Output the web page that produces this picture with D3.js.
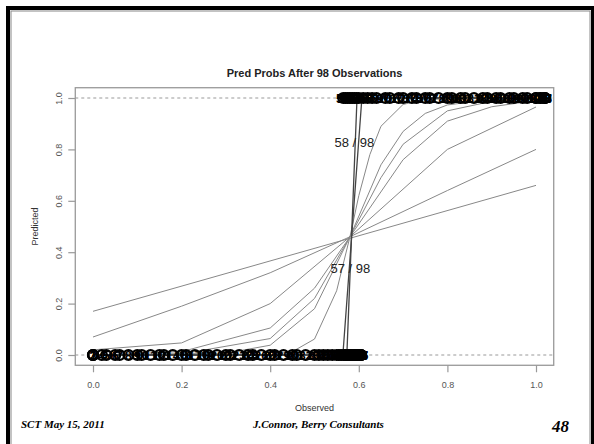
<!DOCTYPE html>
<html>
<head>
<meta charset="utf-8">
<script src="https://cdnjs.cloudflare.com/ajax/libs/d3/7.8.5/d3.min.js"></script>
<style>
  body { margin: 0; background: #fff; }
  svg { display: block; }
</style>
</head>
<body>
<svg id="chart" width="594" height="444"></svg>
<script>
// observed x of the 98 observations, outcome 0 (labels 1..57) and outcome 1 (labels 58..98)
var failX = [0, 0, 0, 0.02, 0.03, 0.05, 0.06, 0.08, 0.10, 0.11,
             0.13, 0.15, 0.16, 0.18, 0.20, 0.21, 0.23, 0.25, 0.26, 0.28,
             0.30, 0.31, 0.33, 0.35, 0.36, 0.38, 0.40, 0.41, 0.43, 0.45,
             0.46, 0.48, 0.50, 0.51, 0.52, 0.53, 0.54, 0.55, 0.555, 0.56,
             0.565, 0.57, 0.57, 0.575, 0.575, 0.58, 0.58, 0.585, 0.59, 0.59,
             0.595, 0.60, 0.60, 0.60, 0.605, 0.605, 0.605];
var respX = [0.565, 0.57, 0.575, 0.58, 0.585, 0.59, 0.595, 0.60, 0.61, 0.62,
             0.63, 0.64, 0.66, 0.67, 0.69, 0.70, 0.72, 0.73, 0.75, 0.76,
             0.78, 0.80, 0.81, 0.83, 0.84, 0.86, 0.88, 0.89, 0.91, 0.92,
             0.94, 0.95, 0.97, 0.98, 1.0, 1.0, 1.01, 1.01, 1.02, 1.02,
             1.02];

// predicted probability curves (x, p)
var curve1 = [[0, 0.17], [1, 0.66]];
var curve2 = [[0, 0.07], [0.2, 0.19], [0.4, 0.32], [0.58, 0.46], [0.8, 0.64], [1, 0.80]];
var curve3 = [[0, 0.02], [0.2, 0.047], [0.4, 0.20], [0.58, 0.46], [0.8, 0.80], [1, 0.965]];
var curve4 = [[0, 0], [0.2, 0.013], [0.4, 0.105], [0.5, 0.26], [0.58, 0.46], [0.7, 0.76], [0.8, 0.91], [0.9, 0.966], [1, 0.99]];
var curve5 = [[0, 0], [0.2, 0.004], [0.4, 0.064], [0.5, 0.22], [0.58, 0.46], [0.65, 0.69], [0.7, 0.82], [0.8, 0.95], [0.9, 0.987], [1, 0.997]];
var curve6 = [[0, 0], [0.3, 0.007], [0.4, 0.038], [0.5, 0.18], [0.58, 0.46], [0.65, 0.74], [0.7, 0.87], [0.75, 0.94], [0.8, 0.973], [0.9, 0.995], [1, 1]];
var curve7 = [[0, 0], [0.4, 0.001], [0.45, 0.013], [0.5, 0.062], [0.55, 0.25], [0.58, 0.46], [0.6, 0.62], [0.625, 0.78], [0.65, 0.89], [0.7, 0.975], [0.75, 0.995], [1, 1]];
var curve8 = [[0, 0], [0.564, 0], [0.607, 1], [1, 1]];
var curve9 = [[0, 0], [0.573, 0], [0.596, 1], [1, 1]];

var vCurves = [curve1, curve2, curve3, curve4, curve5, curve6, curve7, curve8, curve9];

var vsLabels = [{ text: "58 / 98", x: 0.59, y: 0.81 }, { text: "57 / 98", x: 0.581, y: 0.32 }];

var vTicks = [0, 0.2, 0.4, 0.6, 0.8, 1.0];
var vRefLines = [0, 1];

var sFont = "'Liberation Sans', Arial, Helvetica, sans-serif";
var sSerif = "'Liberation Serif', 'Times New Roman', serif";

var svg = d3.select("#chart");

svg.append("rect").attr("width", 594).attr("height", 444).attr("fill", "#fff");

// slide frame
svg.append("rect")
	.attr("x", 8).attr("y", 8)
	.attr("width", 585).attr("height", 460)
	.attr("fill", "none").attr("stroke", "#000").attr("stroke-width", 4);
svg.append("rect")
	.attr("x", 11).attr("y", 11)
	.attr("width", 579).attr("height", 460)
	.attr("fill", "none").attr("stroke", "#888").attr("stroke-width", 1);

var x = d3.scaleLinear().domain([0, 1]).range([93, 536]);
var y = d3.scaleLinear().domain([0, 1]).range([355, 98]);

var nBoxL = x(-0.04), nBoxR = x(1.04), nBoxT = y(1.04), nBoxB = y(-0.04);

// title
svg.append("text")
	.attr("x", (nBoxL + nBoxR) / 2).attr("y", 77)
	.attr("text-anchor", "middle")
	.attr("font-family", sFont).attr("font-size", "11px").attr("font-weight", "bold")
	.attr("fill", "#222")
	.text("Pred Probs After 98 Observations");

// dashed reference lines
svg.selectAll("line.ref")
	.data(vRefLines)
	.enter()
	.append("line")
		.attr("class", "ref")
		.attr("x1", nBoxL).attr("x2", nBoxR)
		.attr("y1", function(d) { return y(d); })
		.attr("y2", function(d) { return y(d); })
		.attr("stroke", "#999").attr("stroke-width", 1)
		.attr("stroke-dasharray", "3,3");

// curves
var line = d3.line()
	.x(function(d) { return x(d[0]); })
	.y(function(d) { return y(d[1]); });

svg.selectAll("path.curve")
	.data(vCurves)
	.enter()
	.append("path")
		.attr("class", "curve")
		.attr("d", line)
		.attr("fill", "none")
		.attr("stroke", function(d, i) { return i >= 7 ? "#444" : "#888"; })
		.attr("stroke-width", function(d, i) { return i >= 7 ? 1.3 : 1; });

// observations: open circles with their numbers
var vObs = failX.map(function(d, i) { return { x: d, y: 0, id: i + 1 }; })
	.concat(respX.map(function(d, i) { return { x: d, y: 1, id: failX.length + i + 1 }; }));

svg.selectAll("circle.obs")
	.data(vObs)
	.enter()
	.append("circle")
		.attr("class", "obs")
		.attr("cx", function(d) { return x(d.x); })
		.attr("cy", function(d) { return y(d.y); })
		.attr("r", 4.9)
		.attr("fill", "none")
		.attr("stroke", "#000").attr("stroke-width", 2.4);

svg.selectAll("text.obs")
	.data(vObs)
	.enter()
	.append("text")
		.attr("class", "obs")
		.attr("x", function(d) { return x(d.x); })
		.attr("y", function(d) { return y(d.y) + 4.8; })
		.attr("text-anchor", "middle")
		.attr("font-family", sFont).attr("font-size", "13px").attr("font-weight", "bold")
		.attr("fill", "#000")
		.text(function(d) { return d.id; });

// count labels
svg.selectAll("text.count")
	.data(vsLabels)
	.enter()
	.append("text")
		.attr("class", "count")
		.attr("x", function(d) { return x(d.x); })
		.attr("y", function(d) { return y(d.y); })
		.attr("text-anchor", "middle")
		.attr("font-family", sFont).attr("font-size", "13px")
		.attr("fill", "#222")
		.text(function(d) { return d.text; });

// box
svg.append("rect")
	.attr("x", nBoxL).attr("y", nBoxT)
	.attr("width", nBoxR - nBoxL).attr("height", nBoxB - nBoxT)
	.attr("fill", "none").attr("stroke", "#999").attr("stroke-width", 1.3);

// axes
var gX = svg.append("g")
	.attr("transform", "translate(0," + nBoxB + ")")
	.call(d3.axisBottom(x).tickValues(vTicks).tickFormat(d3.format(".1f")).tickSize(7).tickPadding(9));
var gY = svg.append("g")
	.attr("transform", "translate(" + nBoxL + ",0)")
	.call(d3.axisLeft(y).tickValues(vTicks).tickFormat(d3.format(".1f")).tickSize(7));

[gX, gY].forEach(function(g) {
	g.select(".domain").remove();
	g.selectAll(".tick line").attr("stroke", "#999").attr("stroke-width", 1.2);
	g.selectAll(".tick text")
		.attr("font-family", sFont).attr("font-size", "9px").attr("fill", "#555");
});

gY.selectAll(".tick text")
	.attr("x", null).attr("dy", null)
	.attr("text-anchor", "middle")
	.attr("transform", "translate(-13,0) rotate(-90)");

// axis titles
svg.append("text")
	.attr("x", (nBoxL + nBoxR) / 2).attr("y", 411)
	.attr("text-anchor", "middle")
	.attr("font-family", sFont).attr("font-size", "9px").attr("fill", "#333")
	.text("Observed");
svg.append("text")
	.attr("transform", "translate(38," + ((nBoxT + nBoxB) / 2) + ") rotate(-90)")
	.attr("text-anchor", "middle")
	.attr("font-family", sFont).attr("font-size", "9px").attr("fill", "#333")
	.text("Predicted");

// footer
svg.append("text")
	.attr("x", 21).attr("y", 428)
	.attr("font-family", sSerif).attr("font-size", "11px")
	.attr("font-weight", "bold").attr("font-style", "italic")
	.text("SCT May 15, 2011");
svg.append("text")
	.attr("x", 253).attr("y", 428)
	.attr("font-family", sSerif).attr("font-size", "11px")
	.attr("font-weight", "bold").attr("font-style", "italic")
	.text("J.Connor, Berry Consultants");
svg.append("text")
	.attr("x", 552).attr("y", 432)
	.attr("font-family", sSerif).attr("font-size", "17px")
	.attr("font-weight", "bold").attr("font-style", "italic")
	.text("48");
</script>
</body>
</html>
